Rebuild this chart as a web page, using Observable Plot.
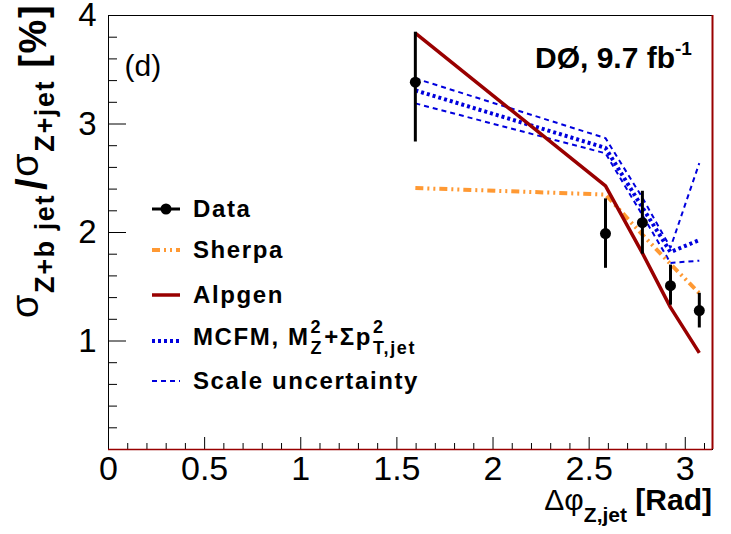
<!DOCTYPE html>
<html>
<head>
<meta charset="utf-8">
<script src="https://cdn.jsdelivr.net/npm/d3@7"></script>
<script src="https://cdn.jsdelivr.net/npm/@observablehq/plot@0.6"></script>
<style>
  html, body { margin: 0; padding: 0; background: white; }
  #chart { position: relative; width: 731px; height: 534px; }
</style>
</head>
<body>
<div id="chart"></div>
<script>
// ---- data ----
const xBins    = [1.596, 2.585, 2.777, 2.923, 3.073];
const dataY    = [3.385, 1.99, 2.09, 1.51, 1.28];
const dataHi   = [3.846, 2.31, 2.38, 1.70, 1.44];
const dataLo   = [2.834, 1.67, 1.80, 1.33, 1.12];
const sherpa   = [2.41, 2.35, 1.98, 1.71, 1.44];
const alpgen   = [3.837, 2.43, 1.81, 1.31, 0.89];
const mcfm     = [3.31, 2.78, 2.23, 1.82, 1.93];
const scaleUp  = [3.42, 2.87, 2.32, 1.86, 2.64];
const scaleDn  = [3.19, 2.73, 2.16, 1.72, 1.74];
const xMajorTicks = [0, 0.5, 1, 1.5, 2, 2.5, 3];
const xTickLabels = ["0", "0.5", "1", "1.5", "2", "2.5", "3"];
const yMajorTicks = [1, 2, 3, 4];
const yTickLabels = ["1", "2", "3", "4"];
const xMinorTicks = d3.range(1, 32).map(i => i / 10).filter(v => Math.abs(v * 2 - Math.round(v * 2)) > 1e-6);
const yMinorTicks = d3.range(1, 20).map(i => i / 5).filter(v => Math.abs(v - Math.round(v)) > 1e-6);

const rows = xBins.map((x, i) => ({
  x, y: dataY[i], hi: dataHi[i], lo: dataLo[i],
  sherpa: sherpa[i], alpgen: alpgen[i], mcfm: mcfm[i], up: scaleUp[i], dn: scaleDn[i]
}));

const W = 731, H = 534, mL = 108, mR = 19, mT = 15, mB = 85;
const innerW = W - mL - mR, innerH = H - mT - mB;
const FONT = "'Liberation Sans', Arial, Helvetica, sans-serif";
const RED = "#990000", ORANGE = "#ff9933", BLUE = "#0000dd";
const lineOpts = { strokeLinecap: "butt", strokeLinejoin: "miter" };

const plot = Plot.plot({
  width: W, height: H,
  marginLeft: mL, marginRight: mR, marginTop: mT, marginBottom: mB,
  style: { fontFamily: FONT, background: "white", color: "black", overflow: "visible" },
  x: { domain: [0, Math.PI] },
  y: { domain: [0, 4] },
  marks: [
    // inward ticks (ROOT style)
    Plot.tickX(xMinorTicks, { x: d => d, insetTop: innerH - 6, stroke: "black", strokeWidth: 1 }),
    Plot.tickX(xMajorTicks, { x: d => d, insetTop: innerH - 12, stroke: "black", strokeWidth: 1 }),
    Plot.tickY(yMinorTicks, { y: d => d, insetRight: innerW - 9, stroke: "black", strokeWidth: 1 }),
    Plot.tickY(yMajorTicks, { y: d => d, insetRight: innerW - 18, stroke: "black", strokeWidth: 1 }),
    Plot.axisX({ ticks: xMajorTicks, tickSize: 0, tickPadding: 6, fontSize: 34,
                 tickFormat: d => xTickLabels[xMajorTicks.indexOf(d)], label: null }),
    Plot.axisY({ ticks: yMajorTicks, tickSize: 0, tickPadding: 12, fontSize: 33,
                 tickFormat: d => yTickLabels[yMajorTicks.indexOf(d)], label: null }),
    // theory curves
    Plot.line(rows, { x: "x", y: "up", stroke: BLUE, strokeWidth: 2, strokeDasharray: "5,4", ...lineOpts }),
    Plot.line(rows, { x: "x", y: "dn", stroke: BLUE, strokeWidth: 2, strokeDasharray: "5,4", ...lineOpts }),
    Plot.line(rows, { x: "x", y: "mcfm", stroke: BLUE, strokeWidth: 4, strokeDasharray: "3,3", ...lineOpts }),
    Plot.line(rows, { x: "x", y: "sherpa", stroke: ORANGE, strokeWidth: 4, strokeDasharray: "8,4,2,4,2,4", ...lineOpts }),
    Plot.line(rows, { x: "x", y: "alpgen", stroke: RED, strokeWidth: 3.5, ...lineOpts }),
    // data
    Plot.ruleX(rows, { x: "x", y1: "lo", y2: "hi", stroke: "black", strokeWidth: 3 }),
    Plot.dot(rows, { x: "x", y: "y", r: 5.5, fill: "black", stroke: "none" }),
    // frame
    Plot.frame({ stroke: "black", strokeWidth: 1 }),
    Plot.ruleX([Math.PI], { stroke: RED, strokeWidth: 2 }),
    Plot.ruleY([0], { stroke: RED, strokeWidth: 1.5 }),
    Plot.text(["(d)"], { frameAnchor: "top-left", dx: 16, dy: 60, text: d => d, fontSize: 30,
                         textAnchor: "start", lineAnchor: "bottom", fill: "black" })
  ]
});
document.getElementById("chart").append(plot);

const svg = d3.select(plot);

// ---- DØ label ----
{
  const t = svg.append("text").attr("x", 535).attr("y", 68).attr("text-anchor", "start")
    .attr("font-family", FONT).attr("font-weight", "bold").attr("font-size", 30).attr("fill", "black");
  t.append("tspan").text("DØ, 9.7 fb");
  t.append("tspan").attr("font-size", 19).attr("dy", -13).text("-1");
}

// ---- axis titles ----
{
  const t = svg.append("text").attr("x", 712).attr("y", 510).attr("text-anchor", "end")
    .attr("font-family", FONT).attr("fill", "black");
  t.append("tspan").attr("font-size", 30).text("Δφ");
  t.append("tspan").attr("font-size", 21).attr("font-weight", "bold").attr("dy", 12).text("Z,jet");
  t.append("tspan").attr("font-size", 30).attr("font-weight", "bold").attr("dy", -12).text(" [Rad]");
}
{
  const t = svg.append("text").attr("transform", "translate(46,318) rotate(-90)")
    .attr("text-anchor", "start").attr("font-family", FONT).attr("fill", "black")
    .attr("letter-spacing", 1.6);
  t.append("tspan").attr("font-size", 38).attr("dy", -8).text("σ");
  t.append("tspan").attr("font-size", 27).attr("font-weight", "bold").attr("dy", 16).text("Z+b jet");
  t.append("tspan").attr("font-size", 42).attr("font-weight", "bold").attr("dy", -8).attr("dx", 4).text("/");
  t.append("tspan").attr("font-size", 38).attr("dy", -8).text("σ");
  t.append("tspan").attr("font-size", 27).attr("font-weight", "bold").attr("dy", 16).text("Z+jet");
  t.append("tspan").attr("font-size", 38).attr("font-weight", "bold").attr("dy", -8).text(" [%]");
}

// ---- legend ----
{
  const g = svg.append("g").attr("font-family", FONT).attr("font-weight", "bold")
    .attr("fill", "black").attr("text-anchor", "start");
  const x0 = 152, x1 = 180, tx = 193, fs = 24, ls = 1.6;
  const entries = [
    { y: 209, kind: "data" },
    { y: 250, stroke: ORANGE, w: 4, dash: "8,4,2,4,2,4" },
    { y: 295, stroke: RED, w: 3.5, dash: null },
    { y: 341, stroke: BLUE, w: 4, dash: "3,3" },
    { y: 381, stroke: BLUE, w: 2, dash: "5,4" }
  ];
  entries.forEach(e => {
    if (e.kind === "data") {
      g.append("line").attr("x1", x0).attr("x2", x1).attr("y1", e.y).attr("y2", e.y)
        .attr("stroke", "black").attr("stroke-width", 3);
      g.append("circle").attr("cx", (x0 + x1) / 2).attr("cy", e.y).attr("r", 5.5).attr("fill", "black");
    } else {
      g.append("line").attr("x1", x0).attr("x2", x1).attr("y1", e.y).attr("y2", e.y)
        .attr("stroke", e.stroke).attr("stroke-width", e.w).attr("stroke-dasharray", e.dash);
    }
  });
  const label = (y, s) => g.append("text").attr("x", tx).attr("y", y + 8).attr("font-size", fs)
    .attr("letter-spacing", ls).text(s);
  label(209, "Data");
  label(250, "Sherpa");
  label(295, "Alpgen");
  label(381, "Scale uncertainty");
  // MCFM entry with stacked super/subscripts
  const by = 341 + 4;
  let x = tx;
  const seg = (s, size, dy) => {
    const el = g.append("text").attr("x", x).attr("y", by + dy).attr("font-size", size)
      .attr("letter-spacing", ls).text(s);
    return el.node().getComputedTextLength();
  };
  x += seg("MCFM, M", fs, 0) + 1;
  const a = seg("2", 18, -12), b = seg("Z", 18, 9);
  x += Math.max(a, b) + 1;
  x += seg("+Σp", fs, 0) + 1;
  seg("2", 18, -12); seg("T,jet", 18, 9);
}
</script>
</body>
</html>
